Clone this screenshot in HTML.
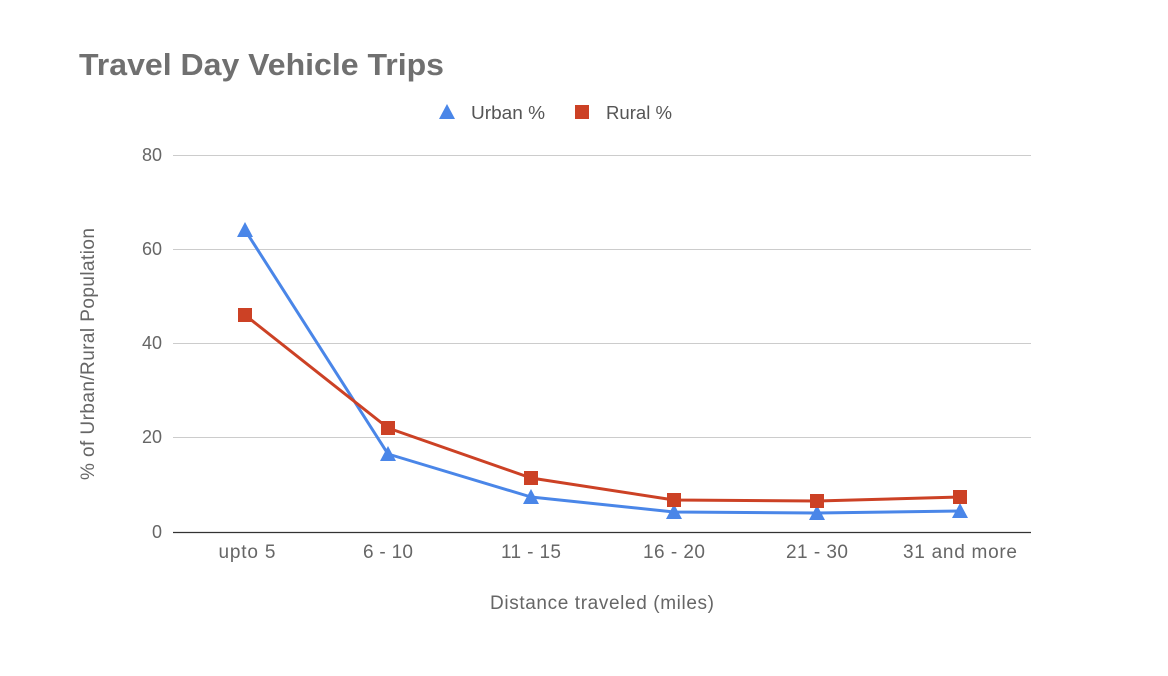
<!DOCTYPE html>
<html><head><meta charset="utf-8"><style>body{margin:0;background:#fff}svg{display:block}</style></head>
<body>
<svg width="1168" height="676" viewBox="0 0 1168 676" xmlns="http://www.w3.org/2000/svg" font-family="Liberation Sans, sans-serif">
<rect width="1168" height="676" fill="#fff"/>
<text x="79" y="75" font-size="31" font-weight="bold" fill="#707070" textLength="365" lengthAdjust="spacingAndGlyphs">Travel Day Vehicle Trips</text>
<polygon points="447,104 439,119 455,119" fill="#4a86e8"/>
<text x="471" y="119" font-size="18" fill="#555" textLength="74" lengthAdjust="spacingAndGlyphs">Urban %</text>
<rect x="575" y="105" width="14" height="14" fill="#cc4125"/>
<text x="606" y="119" font-size="18" fill="#555" textLength="66" lengthAdjust="spacingAndGlyphs">Rural %</text>
<g stroke="#ccc" stroke-width="1">
<line x1="173" y1="155.5" x2="1031" y2="155.5"/>
<line x1="173" y1="249.5" x2="1031" y2="249.5"/>
<line x1="173" y1="343.5" x2="1031" y2="343.5"/>
<line x1="173" y1="437.5" x2="1031" y2="437.5"/>
</g>
<line x1="173" y1="532.5" x2="1031" y2="532.5" stroke="#333" stroke-width="1.2"/>
<g font-size="18" fill="#666" text-anchor="end">
<text x="162" y="161">80</text><text x="162" y="255">60</text><text x="162" y="349">40</text><text x="162" y="443">20</text><text x="162" y="538">0</text>
</g>
<g font-size="19" fill="#666" text-anchor="middle" lengthAdjust="spacingAndGlyphs">
<text x="247" y="558" textLength="57">upto 5</text><text x="388" y="558" textLength="50">6 - 10</text><text x="531" y="558" textLength="60">11 - 15</text><text x="674" y="558" textLength="62">16 - 20</text><text x="817" y="558" textLength="62">21 - 30</text><text x="960" y="558" textLength="114">31 and more</text>
<text x="602" y="609" textLength="224">Distance traveled (miles)</text>
<text transform="translate(94,354) rotate(-90)" textLength="252">% of Urban/Rural Population</text>
</g>
<polyline points="245,230 388,454 531,497 674,512 817,513 960,511" fill="none" stroke="#4a86e8" stroke-width="3" stroke-linejoin="round"/>
<polyline points="245,315 388,428 531,478 674,500 817,501 960,497" fill="none" stroke="#cc4125" stroke-width="3" stroke-linejoin="round"/>
<g fill="#4a86e8">
<polygon points="245,222 237,237 253,237"/><polygon points="388,446 380,461 396,461"/><polygon points="531,489 523,504 539,504"/><polygon points="674,504 666,519 682,519"/><polygon points="817,505 809,520 825,520"/><polygon points="960,503 952,518 968,518"/>
</g>
<g fill="#cc4125">
<rect x="238" y="308" width="14" height="14"/><rect x="381" y="421" width="14" height="14"/><rect x="524" y="471" width="14" height="14"/><rect x="667" y="493" width="14" height="14"/><rect x="810" y="494" width="14" height="14"/><rect x="953" y="490" width="14" height="14"/>
</g>
</svg>
</body></html>
